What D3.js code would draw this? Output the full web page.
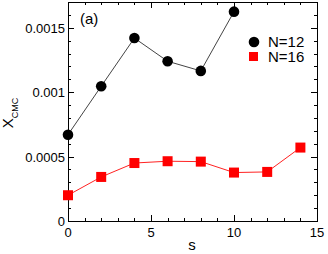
<!DOCTYPE html>
<html lang="en">
<head>
<meta charset="utf-8">
<title>X_CMC vs s</title>
<script src="https://cdn.jsdelivr.net/npm/d3@7"></script>
<style>
  body { margin: 0; background: #fff; }
  text { font-family: "Liberation Sans", Arial, sans-serif; }
</style>
</head>
<body>
<script>
// data
var sN12 = [0, 2, 4, 6, 8, 10];
var xN12 = [0.00067, 0.001046, 0.00142, 0.00124, 0.001165, 0.001625];
var sN16 = [0, 2, 4, 6, 8, 10, 12, 14];
var xN16 = [0.0002, 0.000342, 0.00045, 0.000464, 0.000461, 0.000376, 0.000381, 0.00057];
var xTicks = [0, 5, 10, 15];
var yTicks = [0, 0.0005, 0.001, 0.0015];
var yTickLabels = ["0", "0.0005", "0.001", "0.0015"];
var legendNames = ["N=12", "N=16"];

var w = 328, h = 254;
// plot box (note: "top" is reserved on window, so use pTop etc.)
var pLeft = 68, pRight = 317, pTop = 2, pBottom = 221;

var svg = d3.select("body").append("svg")
  .attr("width", w)
  .attr("height", h);

var xScale = d3.scaleLinear().domain([0, 15]).range([pLeft, pRight]);
var yScale = d3.scaleLinear().domain([0, 0.0017]).range([pBottom, pTop]);

// frame
svg.append("rect")
  .attr("x", pLeft + 0.5).attr("y", pTop + 0.5)
  .attr("width", pRight - pLeft).attr("height", pBottom - pTop)
  .attr("fill", "none").attr("stroke", "#000").attr("stroke-width", 1);

// ticks on all sides, pointing in
var xMinor = d3.range(0, 15.01, 1);
var yMinor = d3.range(0, 0.00171, 0.0001);

function drawX(vals, len) {
  vals.forEach(function(v) {
    var x = Math.round(xScale(v)) + 0.5;
    svg.append("line").attr("x1", x).attr("x2", x).attr("y1", pBottom).attr("y2", pBottom - len).attr("stroke", "#000");
    svg.append("line").attr("x1", x).attr("x2", x).attr("y1", pTop).attr("y2", pTop + len).attr("stroke", "#000");
  });
}
function drawY(vals, len) {
  vals.forEach(function(v) {
    var y = Math.round(yScale(v)) + 0.5;
    svg.append("line").attr("y1", y).attr("y2", y).attr("x1", pLeft).attr("x2", pLeft + len).attr("stroke", "#000");
    svg.append("line").attr("y1", y).attr("y2", y).attr("x1", pRight).attr("x2", pRight - len).attr("stroke", "#000");
  });
}
drawX(xMinor, 3);
drawX(xTicks, 6);
drawY(yMinor, 3);
drawY(yTicks, 6);

// tick labels
svg.selectAll(".xl").data(xTicks).enter().append("text")
  .attr("x", function(d) { return xScale(d); })
  .attr("y", 237)
  .attr("text-anchor", "middle")
  .attr("font-size", 13)
  .text(function(d) { return d; });

svg.selectAll(".yl").data(yTicks).enter().append("text")
  .attr("x", 65)
  .attr("y", function(d) { return yScale(d) + 5; })
  .attr("text-anchor", "end")
  .attr("font-size", 13)
  .text(function(d, i) { return yTickLabels[i]; });

// axis titles
svg.append("text")
  .attr("x", 192).attr("y", 250)
  .attr("text-anchor", "middle")
  .attr("font-size", 15)
  .text("s");

var yt = svg.append("text")
  .attr("transform", "translate(13,113) rotate(-90)")
  .attr("text-anchor", "middle")
  .attr("font-size", 15);
yt.append("tspan").text("X");
yt.append("tspan").attr("font-size", 9).attr("dy", 5).text("CMC");

// panel label
svg.append("text")
  .attr("x", 80).attr("y", 24)
  .attr("font-size", 15)
  .text("(a)");

var line = d3.line()
  .x(function(d) { return xScale(d[0]); })
  .y(function(d) { return yScale(d[1]); });

var d12 = sN12.map(function(s, i) { return [s, xN12[i]]; });
var d16 = sN16.map(function(s, i) { return [s, xN16[i]]; });

svg.append("path").datum(d12).attr("d", line)
  .attr("fill", "none").attr("stroke", "#444").attr("stroke-width", 1);
svg.append("path").datum(d16).attr("d", line)
  .attr("fill", "none").attr("stroke", "#f22").attr("stroke-width", 1);

svg.selectAll(".c12").data(d12).enter().append("circle")
  .attr("cx", function(d) { return xScale(d[0]); })
  .attr("cy", function(d) { return yScale(d[1]); })
  .attr("r", 5.3)
  .attr("fill", "#000");

svg.selectAll(".s16").data(d16).enter().append("rect")
  .attr("x", function(d) { return xScale(d[0]) - 5; })
  .attr("y", function(d) { return yScale(d[1]) - 5; })
  .attr("width", 10).attr("height", 10)
  .attr("fill", "#f00");

// legend
svg.append("circle").attr("cx", 254).attr("cy", 42).attr("r", 5.3).attr("fill", "#000");
svg.append("rect").attr("x", 249).attr("y", 52).attr("width", 9).attr("height", 9).attr("fill", "#f00");
svg.selectAll(".lg").data(legendNames).enter().append("text")
  .attr("x", 268)
  .attr("y", function(d, i) { return 47 + i * 15; })
  .attr("font-size", 15)
  .text(function(d) { return d; });
</script>
</body>
</html>
